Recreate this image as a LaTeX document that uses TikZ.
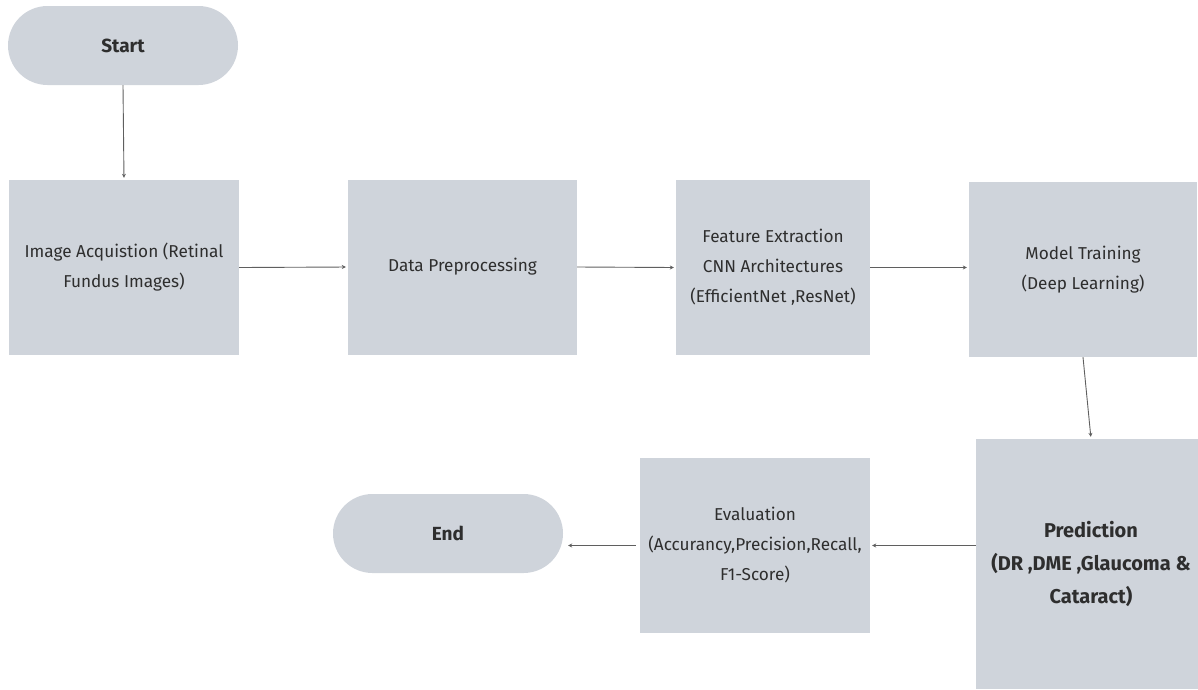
\documentclass[tikz,border=0pt]{standalone}
\usepackage{fontspec}
\setmainfont{Fira Sans}
\usetikzlibrary{arrows.meta}
\definecolor{boxgray}{RGB}{207,212,219}
\definecolor{arrgray}{RGB}{95,95,95}
\begin{document}
\begin{tikzpicture}[x=1pt,y=-1pt,
  box/.style={fill=boxgray, draw=none, align=center, inner sep=0pt,
    font=\fontsize{17.2}{30}\selectfont, text=black!82},
  term/.style={box, rounded corners=39.5pt, minimum width=230pt, minimum height=79pt,
    font=\fontsize{19}{30}\selectfont\bfseries},
  arr/.style={draw=arrgray, line width=0.9pt, -{Stealth[length=4pt,width=4pt]}, shorten >=2pt}]
\useasboundingbox (0,0) rectangle (1198,689);
\begin{scope}
\clip (0,0) rectangle (1198,689);
\node[term] (start) at (123,45.5) {Start};
\node[box, minimum width=230pt, minimum height=175pt] (acq) at (124,267.5) {Image Acquistion (Retinal\\Fundus Images)};
\node[box, minimum width=229pt, minimum height=175pt] (pre) at (462.5,267) {Data Preprocessing};
\node[box, minimum width=194pt, minimum height=175pt] (feat) at (773,267.5) {Feature Extraction\\CNN Architectures\\(EfficientNet ,ResNet)};
\node[box, minimum width=228pt, minimum height=175pt] (train) at (1083,269.5) {Model Training\\(Deep Learning)};
\node[box, minimum width=230pt, minimum height=250pt, font=\fontsize{20}{33}\selectfont\bfseries] (pred) at (1091,564) {Prediction\\(DR ,DME ,Glaucoma \&\\Cataract)};
\node[box, minimum width=230pt, minimum height=175pt] (eval) at (755,545.5) {Evaluation\\(Accurancy,Precision,Recall,\\F1-Score)};
\node[term] (end) at (448,533.5) {End};
\end{scope}
\draw[arr] (start.south) -- (acq.north);
\draw[arr] (acq.east) -- (pre.west);
\draw[arr] (pre.east) -- (feat.west);
\draw[arr] (feat.east) -- (train.west |- feat.east);
\draw[arr] (train.south) -- (pred.north);
\draw[arr] (pred.west |- eval.east) -- (eval.east);
\draw[arr, shorten >=5pt, shorten <=4pt] (eval.west) -- (eval.west -| end.east);
\end{tikzpicture}
\end{document}
